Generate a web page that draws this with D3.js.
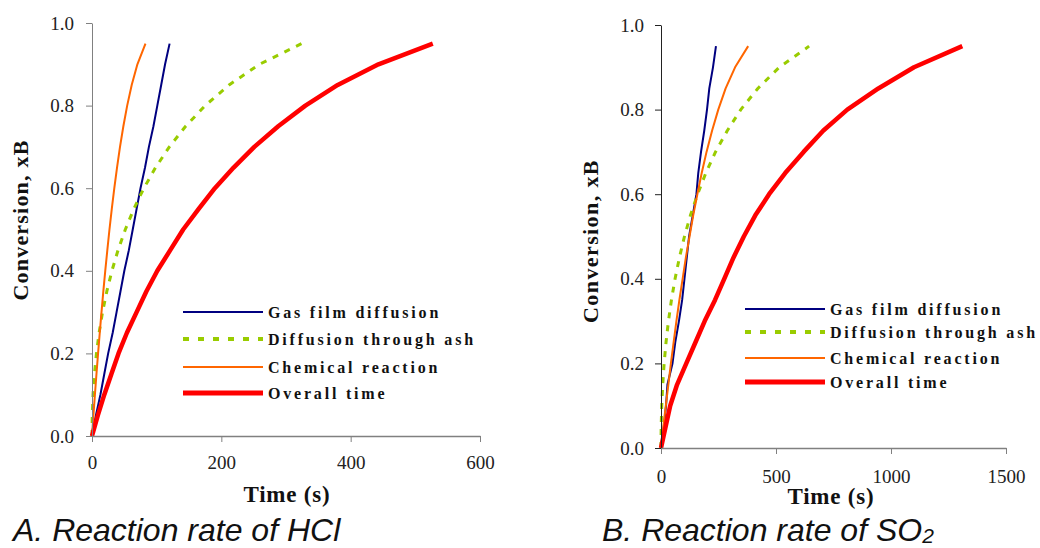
<!DOCTYPE html>
<html>
<head>
<meta charset="utf-8">
<script src="https://cdn.jsdelivr.net/npm/d3@7"></script>
<style>
  body { margin: 0; background: #fff; }
  svg { display: block; }
  .ttl { font-family: "Liberation Serif", "Times New Roman", serif; font-weight: bold; fill: #111; }
  .leg { font-family: "Liberation Serif", "Times New Roman", serif; font-weight: bold; font-size: 16px; letter-spacing: 2.8px; fill: #111; }
  .cap { font-family: "Liberation Sans", Arial, sans-serif; font-style: italic; fill: #111; }
</style>
</head>
<body>
<svg width="1040" height="548"></svg>
<script>
// conversion levels (y values shared by every series)
const conv = [0, 0.05, 0.1, 0.15, 0.2, 0.25, 0.3, 0.35, 0.4, 0.45, 0.5, 0.55, 0.6, 0.65, 0.7, 0.75, 0.8, 0.85, 0.9, 0.95];

// A. HCl, time in s
const hclGas     = [0, 6, 13, 19, 25, 32, 38, 44, 50, 57, 63, 69, 75, 82, 88, 95, 101, 107, 113, 120];
const hclAsh     = [0, 0.4, 1.6, 3.8, 6.9, 11, 16.3, 22.9, 30.8, 40.3, 51.5, 64.7, 80.2, 98.3, 119.6, 144.8, 175, 212, 259, 324];
const hclChem    = [0, 2.2, 4.5, 6.9, 9.4, 12, 14.7, 17.5, 20.5, 23.7, 27, 30.6, 34.5, 38.7, 43.3, 48.5, 54.4, 61.4, 70.2, 82.7];
const hclOverall = [0, 9, 19, 30, 41, 54, 69, 84, 101, 121, 141, 165, 190, 219, 251, 288, 330, 380, 443, 527];

// B. SO2, time in s
const so2Gas     = [0, 12, 22, 28, 50, 62, 78, 92, 102, 112, 122, 138, 154, 162, 174, 188, 200, 210, 226, 239];
const so2Ash     = [0, 0.8, 3.3, 7.5, 13.6, 21.9, 32.4, 45.4, 61.2, 80, 102, 128, 159, 195, 237, 288, 347, 421, 514, 644];
const so2Chem    = [0, 10, 21, 32, 43, 55, 67, 80, 94, 108, 124, 140, 158, 177, 198, 222, 249, 281, 322, 379];
const so2Overall = [0, 20, 40, 70, 110, 150, 190, 235, 275, 315, 360, 410, 470, 540, 620, 705, 810, 945, 1100, 1310];

const seriesNames = ["Gas film diffusion", "Diffusion through ash", "Chemical reaction", "Overall time"];
const yTicks = [0, 0.2, 0.4, 0.6, 0.8, 1.0];

const styles = [
  {color: "#000080", width: 2, dash: null},
  {color: "#99CC00", width: 3, dash: "6,7"},
  {color: "#FF6600", width: 2, dash: null},
  {color: "#FF0000", width: 4.5, dash: null}
];

const serif = "'Liberation Serif', 'Times New Roman', serif";
const svg = d3.select("svg");

function drawChart(opt) {
  const x = d3.scaleLinear().domain(opt.xDomain).range(opt.xRange);
  const y = d3.scaleLinear().domain([0, 1]).range(opt.yRange);
  const g = svg.append("g");

  const line = d3.line()
    .x(d => x(d[0]))
    .y(d => y(d[1]));

  opt.series.forEach((s, i) => {
    g.append("path")
      .datum(s.map((t, j) => [t, conv[j]]))
      .attr("fill", "none")
      .attr("stroke", styles[i].color)
      .attr("stroke-width", styles[i].width)
      .attr("stroke-dasharray", styles[i].dash)
      .attr("stroke-linejoin", "round")
      .attr("d", line);
  });

  // axes
  const yAxis = g.append("g")
    .attr("transform", `translate(${opt.xRange[0]},0)`)
    .call(d3.axisLeft(y).tickValues(yTicks).tickFormat(d3.format(".1f"))
      .tickSize(6).tickSizeOuter(0).tickPadding(opt.yPad))
    .attr("font-family", serif).attr("font-size", 19);
  yAxis.select(".domain").attr("stroke", opt.yAxisColor);
  yAxis.selectAll(".tick line").attr("stroke", opt.yAxisColor);

  const xAxis = g.append("g")
    .attr("transform", `translate(0,${opt.yRange[0]})`)
    .call(d3.axisBottom(x).tickValues(opt.xTicks).tickFormat(d3.format("d"))
      .tickSize(6).tickSizeOuter(0).tickPadding(opt.xPad))
    .attr("font-family", serif).attr("font-size", 19);
  xAxis.select(".domain").attr("stroke", "#808080").attr("stroke-width", 1.3);
  xAxis.selectAll(".tick line").attr("stroke", "#808080");

  g.selectAll(".tick text").attr("fill", "#222");

  // titles
  g.append("text").attr("class", "ttl")
    .attr("x", opt.xTitle[0]).attr("y", opt.xTitle[1])
    .attr("text-anchor", "middle")
    .style("font-size", "23px").style("letter-spacing", "0.8px")
    .text("Time (s)");

  g.append("text").attr("class", "ttl")
    .attr("transform", `translate(${opt.yTitle[0]},${opt.yTitle[1]}) rotate(-90)`)
    .attr("text-anchor", "middle")
    .style("font-size", "22px").style("letter-spacing", opt.yTitleSpacing)
    .text("Conversion, xB");

  // legend
  const leg = g.append("g");
  seriesNames.forEach((name, i) => {
    const ly = opt.legendY[i];
    leg.append("line")
      .attr("x1", opt.legendX).attr("x2", opt.legendX + 80)
      .attr("y1", ly).attr("y2", ly)
      .attr("stroke", styles[i].color)
      .attr("stroke-width", i === 1 ? 4 : styles[i].width + (i === 3 ? 0.5 : 0))
      .attr("stroke-dasharray", i === 1 ? "6,9" : null);
    leg.append("text").attr("class", "leg")
      .attr("x", opt.legendX + 85).attr("y", ly + 6)
      .text(name);
  });

  // caption
  const cap = g.append("text").attr("class", "cap")
    .attr("x", opt.caption[0]).attr("y", opt.caption[1])
    .style("font-size", opt.captionSize + "px");
  cap.append("tspan").text(opt.captionText);
  if (opt.captionSub) {
    cap.append("tspan").attr("dy", 2).style("font-size", "21px").text(opt.captionSub);
  }
}

drawChart({
  xDomain: [0, 600], xRange: [92, 480], yRange: [436, 23],
  xTicks: [0, 200, 400, 600],
  series: [hclGas, hclAsh, hclChem, hclOverall],
  yAxisColor: "#808080", yPad: 12, xPad: 14,
  xTitle: [287, 502], yTitle: [28, 220], yTitleSpacing: "1.2px",
  legendX: 183, legendY: [312, 339, 367, 393],
  caption: [13, 541], captionSize: 32, captionText: "A. Reaction rate of HCl"
});

drawChart({
  xDomain: [0, 1500], xRange: [661, 1006], yRange: [448, 25],
  xTicks: [0, 500, 1000, 1500],
  series: [so2Gas, so2Ash, so2Chem, so2Overall],
  yAxisColor: "#222", yPad: 11, xPad: 16,
  xTitle: [831, 504], yTitle: [598, 241], yTitleSpacing: "1.4px",
  legendX: 745, legendY: [309, 332, 358, 382],
  caption: [602, 541], captionSize: 32, captionText: "B. Reaction rate of SO", captionSub: "2"
});
</script>
</body>
</html>
